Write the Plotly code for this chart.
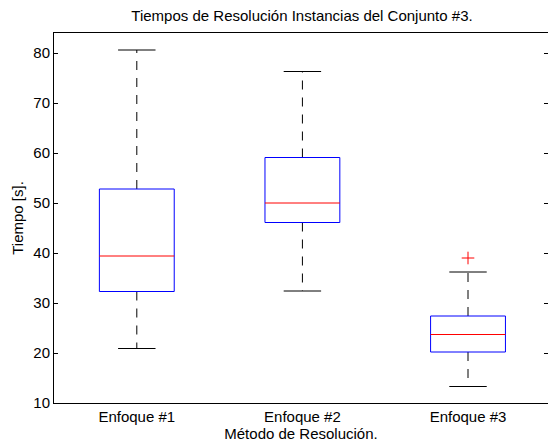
import plotly.graph_objects as go

categories = ["Enfoque #1", "Enfoque #2", "Enfoque #3"]
lower_whisker = [20.9, 32.4, 13.3]
q1 = [32.3, 46.1, 20.2]
median = [39.4, 50.0, 23.7]
q3 = [52.8, 59.1, 27.4]
upper_whisker = [80.6, 76.3, 36.2]
outlier_cat = [3]
outlier_val = [39.0]

y_ticks = [10, 20, 30, 40, 50, 60, 70, 80]

BOX_HALF = 0.226
CAP_HALF = 0.113

positions = list(range(1, len(categories) + 1))

box_x, box_y = [], []
med_x, med_y = [], []
wh_x, wh_y = [], []
cap_x, cap_y = [], []
for p, lo, a, m, b, hi in zip(positions, lower_whisker, q1, median, q3, upper_whisker):
    box_x += [p - BOX_HALF, p + BOX_HALF, p + BOX_HALF, p - BOX_HALF, p - BOX_HALF, None]
    box_y += [a, a, b, b, a, None]
    med_x += [p - BOX_HALF, p + BOX_HALF, None]
    med_y += [m, m, None]
    wh_x += [p, p, None, p, p, None]
    wh_y += [b, hi, None, a, lo, None]
    cap_x += [p - CAP_HALF, p + CAP_HALF, None, p - CAP_HALF, p + CAP_HALF, None]
    cap_y += [hi, hi, None, lo, lo, None]

fig = go.Figure()
fig.add_trace(go.Scatter(x=wh_x, y=wh_y, mode="lines",
                         line=dict(color="black", width=1, dash="9px,8px"),
                         hoverinfo="skip", showlegend=False))
fig.add_trace(go.Scatter(x=cap_x, y=cap_y, mode="lines",
                         line=dict(color="black", width=1),
                         hoverinfo="skip", showlegend=False))
fig.add_trace(go.Scatter(x=box_x, y=box_y, mode="lines",
                         line=dict(color="#0000ff", width=1),
                         hoverinfo="skip", showlegend=False))
fig.add_trace(go.Scatter(x=med_x, y=med_y, mode="lines",
                         line=dict(color="#ff0000", width=1),
                         hoverinfo="skip", showlegend=False))
fig.add_trace(go.Scatter(x=outlier_cat, y=outlier_val, mode="markers",
                         marker=dict(symbol="cross-thin", size=9,
                                     line=dict(color="#ff0000", width=1)),
                         hoverinfo="skip", showlegend=False))
# invisible trace to carry the right-hand tick axis
fig.add_trace(go.Scatter(x=[None], y=[None], yaxis="y2", mode="markers",
                         hoverinfo="skip", showlegend=False))

font = dict(family="Liberation Sans, Arial, sans-serif", size=15, color="black")
title_font = dict(family="Liberation Sans, Arial, sans-serif", size=15, color="black")

fig.update_layout(
    width=548, height=443,
    margin=dict(l=54, r=0, t=33, b=40),
    paper_bgcolor="white", plot_bgcolor="white",
    font=font,
    title=dict(text="Tiempos de Resolución Instancias del Conjunto #3.",
               x=302 / 548, xanchor="center", xref="container",
               y=1 - 16 / 443, yanchor="middle", yref="container",
               font=title_font),
    xaxis=dict(range=[0.5, 3.483], tickvals=positions, ticktext=categories,
               showline=True, mirror=True, linecolor="black", linewidth=1,
               ticks="", showgrid=False, zeroline=False,
               tickfont=dict(color="black"),
               title=dict(text="Método de Resolución.", standoff=0, font=title_font)),
    yaxis=dict(range=[10, 84], tickvals=y_ticks,
               showline=True, mirror=False, linecolor="black", linewidth=1,
               ticks="inside", ticklen=4, tickcolor="black",
               showgrid=False, zeroline=False,
               tickfont=dict(color="black"),
               title=dict(text="Tiempo [s].", standoff=6, font=title_font)),
    yaxis2=dict(range=[10, 84], tickvals=y_ticks, overlaying="y", side="right",
                showline=False, showticklabels=False,
                ticks="inside", ticklen=4, tickcolor="black",
                showgrid=False, zeroline=False),
)

fig.write_html("out.html")
